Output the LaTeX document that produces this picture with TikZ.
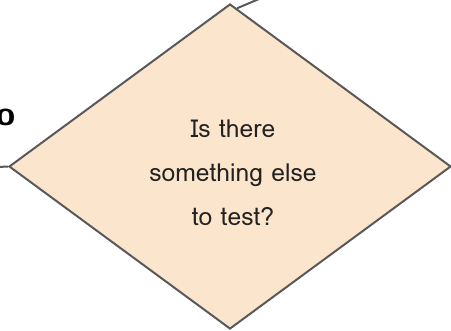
\documentclass[tikz,border=0pt]{standalone}
\usepackage{fontspec}
\newfontfamily\thaifont[Script=Thai]{Loma}
\usetikzlibrary{shapes.geometric,calc}
\definecolor{fillpeach}{HTML}{FCE5CD}
\definecolor{edgegray}{HTML}{595959}
\definecolor{txt}{HTML}{222222}
\begin{document}
\begin{tikzpicture}[x=0.75pt,y=-0.75pt,
  conn/.style={draw=edgegray,line width=1.5pt},
  decision/.style={diamond,draw=edgegray,fill=fillpeach,line width=1.5pt,inner sep=0pt,
    minimum width=442*0.75pt,minimum height=325*0.75pt,aspect=1.36},
  decisiontext/.style={text=txt,font=\thaifont\fontsize{18.5pt}{33pt}\selectfont,align=center,inner sep=0pt}]
\useasboundingbox (0,0) rectangle (451,330);
\coordinate (topout) at (259,-1);
\coordinate (leftout) at (-2,167);
\node[decision] (d) at (230,166.5) {};
\node[decisiontext] (dtext) at ($(d.center)+(3,6)$) {Is there\\something else\\to test?};
\draw[conn] (topout) -- ($(d.north)!0.032!(d.east)$);
\draw[conn] (leftout) -- (d.west);
\node[anchor=base east,inner sep=0pt,font=\sffamily\bfseries\fontsize{26pt}{30pt}\selectfont,text=black] (frag) at (16,125) {o};
\end{tikzpicture}
\end{document}
